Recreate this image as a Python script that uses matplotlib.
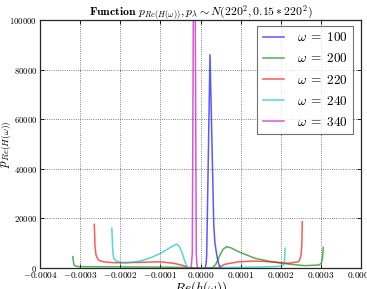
import matplotlib
matplotlib.use("Agg")
import matplotlib.pyplot as plt
from matplotlib.ticker import FixedLocator, FixedFormatter

plt.rcParams['mathtext.fontset'] = 'cm'
plt.rcParams['font.family'] = 'serif'
plt.rcParams['font.serif'] = ['cmr10', 'DejaVu Serif']
plt.rcParams['axes.formatter.use_mathtext'] = True
plt.rcParams['axes.unicode_minus'] = False

# ---- data ----
blue_x = [1.2e-5, 1.45e-5, 1.55e-5, 1.96e-5, 2.37e-5, 2.7e-5, 3.0e-5, 3.3e-5, 3.6e-5, 4.05e-5, 4.5e-5, 4.86e-5, 5.2e-5]
blue_y = [0, 2500, 6000, 46000, 86000, 62000, 40000, 17500, 10000, 5200, 1800, 300, 0]

green_x = [-3.185e-4, -3.153e-4, -3.12e-4, -3.05e-4, -3.0e-4, -2.5e-4, -2.0e-4, -1.5e-4, -1.0e-4, -5.0e-5, -2.0e-5, 0.0,
           2.0e-5, 3.0e-5, 3.8e-5, 4.86e-5, 5.6e-5, 6.53e-5, 7.8e-5, 9.43e-5, 1.36e-4, 1.77e-4, 2.19e-4, 2.6e-4,
           2.95e-4, 3.01e-4, 3.04e-4, 3.06e-4]
green_y = [4600, 1200, 800, 600, 550, 500, 450, 400, 350, 250, 100, 0,
           0, 200, 1500, 5200, 7500, 8600, 8000, 6600, 3900, 2500, 1600, 950,
           1200, 1900, 3900, 8300]

red_x = [-2.647e-4, -2.63e-4, -2.604e-4, -2.547e-4, -2.422e-4, -2.2e-4, -2.006e-4, -1.5e-4, -1.009e-4, -6.78e-5,
         -5.0e-5, -3.44e-5, -2.9e-5, 0.0, 2.0e-5, 4.44e-5, 6.1e-5, 9.43e-5, 1.36e-4, 1.77e-4, 2.19e-4, 2.437e-4,
         2.47e-4, 2.505e-4, 2.525e-4, 2.537e-4]
red_y = [17600, 9000, 5200, 3200, 2500, 2200, 2100, 2300, 2500, 1900,
         1300, 500, 0, 0, 0, 200, 1500, 2500, 2800, 2500, 1900, 2500,
         3200, 5200, 9000, 18700]

cyan_x = [-2.21e-4, -2.19e-4, -2.175e-4, -2.16e-4, -2.1e-4, -2.0e-4, -1.84e-4, -1.6e-4, -1.42e-4, -1.2e-4, -1.0e-4,
          -8.0e-5, -6.5e-5, -5.93e-5, -5.3e-5, -4.69e-5, -3.86e-5, -3.2e-5, 0.0, 3.0e-5, 6.0e-5, 1.0e-4, 1.5e-4,
          1.9e-4, 2.05e-4, 2.09e-4, 2.11e-4]
cyan_y = [16000, 8000, 5000, 3900, 2800, 2300, 2100, 2500, 3200, 4400, 5900,
          7800, 9200, 9600, 8800, 6600, 2500, 0, 0, 50, 200, 300, 400,
          600, 1000, 2000, 7900]

magenta_x = [-2.45e-5, -2.25e-5, -2.04e-5, -1.79e-5, -1.55e-5, -1.3e-5, -1.05e-5, -9.0e-6, -7.0e-6]
magenta_y = [0, 1500, 6000, 100000, 600000, 100000, 6000, 1500, 0]

series_labels = [r'$\omega\;=\;100$', r'$\omega\;=\;200$', r'$\omega\;=\;220$', r'$\omega\;=\;240$', r'$\omega\;=\;340$']

xticks = [-0.0004, -0.0003, -0.0002, -0.0001, 0.0, 0.0001, 0.0002, 0.0003, 0.0004]
xtick_labels = [r'$-0.0004$', r'$-0.0003$', r'$-0.0002$', r'$-0.0001$', r'$0.0000$',
                r'$0.0001$', r'$0.0002$', r'$0.0003$', r'$0.0004$']
yticks = [0, 20000, 40000, 60000, 80000, 100000]
ytick_labels = ['$0$', '$20000$', '$40000$', '$60000$', '$80000$', '$100000$']

title = r'$\mathbf{Function}\ p_{Re(H(\omega))}, p_\lambda \sim N(220^2, 0.15*220^2)$'
xlabel = r'$Re(h(\omega))$'
ylabel = r'$p_{Re(H(\omega))}$'

# ---- figure ----
W, H = 367, 289
fig = plt.figure(figsize=(W / 100, H / 100), dpi=100)
ax = fig.add_axes([40 / W, 1 - 268 / H, 321 / W, 248 / H])

alpha = 0.65
lw = 1.1
ax.plot(blue_x, blue_y, color=(0, 0, 1), alpha=alpha, lw=lw, label=series_labels[0])
ax.plot(green_x, green_y, color=(0, 0.5, 0), alpha=alpha, lw=lw, label=series_labels[1])
ax.plot(red_x, red_y, color=(1, 0, 0), alpha=alpha, lw=lw, label=series_labels[2])
ax.plot(cyan_x, cyan_y, color=(0, 0.75, 0.75), alpha=alpha, lw=lw, label=series_labels[3])
ax.plot(magenta_x, magenta_y, color=(0.75, 0, 0.75), alpha=alpha, lw=lw, label=series_labels[4])

ax.set_xlim(-0.0004, 0.0004)
ax.set_ylim(0, 100000)
ax.xaxis.set_major_locator(FixedLocator(xticks))
ax.xaxis.set_major_formatter(FixedFormatter(xtick_labels))
ax.yaxis.set_major_locator(FixedLocator(yticks))
ax.yaxis.set_major_formatter(FixedFormatter(ytick_labels))

ax.tick_params(direction='in', length=3, width=0.6, labelsize=6.3, top=True, right=True, pad=2)
ax.tick_params(axis='x', labelsize=6.7, pad=1.5)
ax.grid(True, linestyle=':', color='0.35', linewidth=0.6)
for s in ax.spines.values():
    s.set_linewidth(0.9)
    s.set_color('0.15')

ax.set_title(title, fontsize=8.5, pad=3)
ax.set_xlabel(xlabel, fontsize=9.5)
ax.set_ylabel(ylabel, fontsize=9.5)
ax.xaxis.set_label_coords(0.5, (268 - 279) / 248)
ax.yaxis.set_label_coords((13 - 40) / 321, 0.5)

leg = ax.legend(loc='upper right', fontsize=9.5, handlelength=1.6, handletextpad=1.0,
                labelspacing=0.62, borderpad=0.4, borderaxespad=0.0, fancybox=False,
                bbox_to_anchor=(353 / W, 1 - 26 / H), bbox_transform=fig.transFigure)
leg.get_frame().set_edgecolor('0.3')
leg.get_frame().set_linewidth(0.8)

fig.savefig('out.png', dpi=100)
